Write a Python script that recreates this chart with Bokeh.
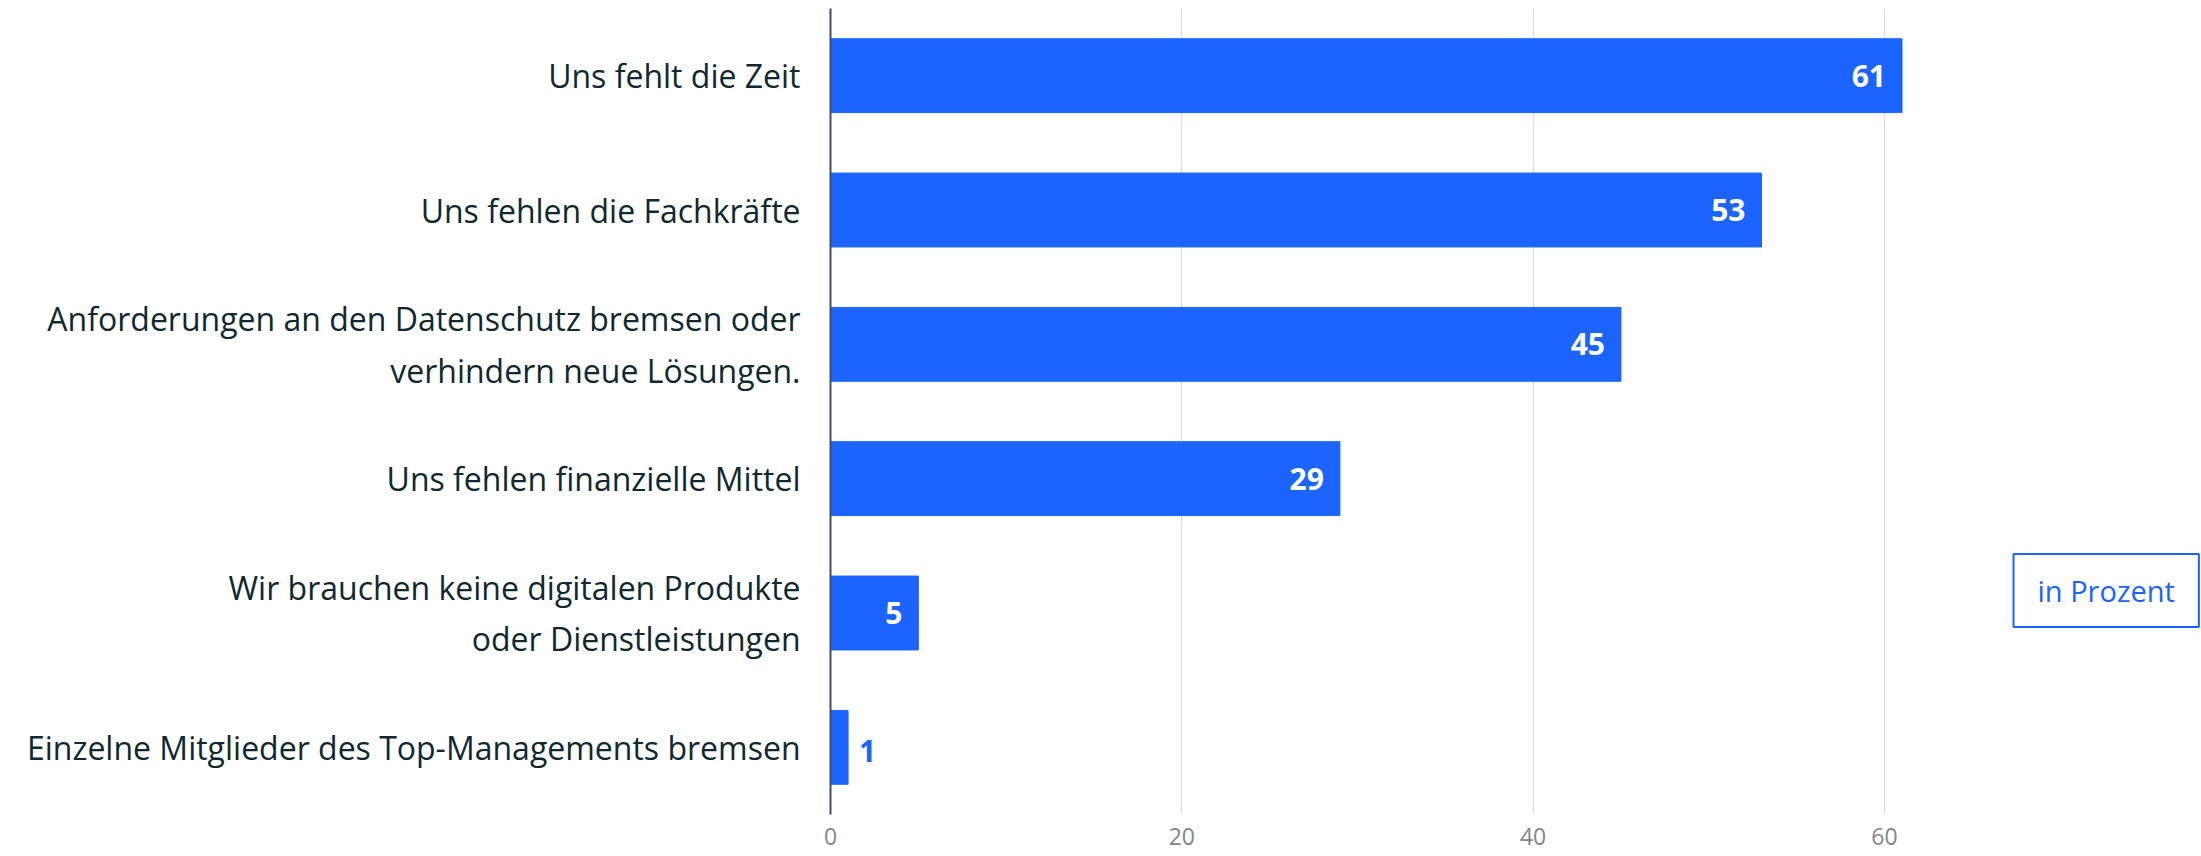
from bokeh.plotting import figure
from bokeh.models import ColumnDataSource, FixedTicker, Label, FactorRange, Range1d
from bokeh.core.properties import value
from bokeh.embed import file_html
from bokeh.resources import INLINE

categories = [
    "Uns fehlt die Zeit",
    "Uns fehlen die Fachkräfte",
    "Anforderungen an den Datenschutz bremsen oder\nverhindern neue Lösungen.",
    "Uns fehlen finanzielle Mittel",
    "Wir brauchen keine digitalen Produkte\noder Dienstleistungen",
    "Einzelne Mitglieder des Top-Managements bremsen",
]
values = [61, 53, 45, 29, 5, 1]
x_ticks = [0, 20, 40, 60]
unit_label = "in Prozent"

BLUE = "#1b64ff"
TEXT = "#10292f"
FONT = "Open Sans"

src = ColumnDataSource(dict(cat=categories, val=values, lab=[str(v) for v in values]))
inside = ColumnDataSource(dict(
    cat=[c for c, v in zip(categories, values) if v >= 3],
    val=[v for v in values if v >= 3],
    lab=[str(v) for v in values if v >= 3],
))
outside = ColumnDataSource(dict(
    cat=[c for c, v in zip(categories, values) if v < 3],
    val=[v for v in values if v < 3],
    lab=[str(v) for v in values if v < 3],
))

p = figure(
    width=2201, height=856,
    y_range=FactorRange(factors=list(reversed(categories))),
    x_range=Range1d(0, 78.05),
    output_backend="svg", toolbar_location=None,
    min_border_left=830, min_border_right=0, min_border_top=8, min_border_bottom=42,
)
p.outline_line_color = None
p.background_fill_color = "white"
p.border_fill_color = "white"

p.hbar(y="cat", right="val", left=0, height=0.55, source=src,
       fill_color=BLUE, line_color=BLUE, line_width=1)

p.text(x="val", y="cat", text="lab", source=inside, x_offset=-16,
       text_align="right", text_baseline="middle", text_color="white",
       text_font=value(FONT), text_font_style="bold", text_font_size="30px")
p.text(x="val", y="cat", text="lab", source=outside, x_offset=11, y_offset=4,
       text_align="left", text_baseline="middle", text_color=BLUE,
       text_font=value(FONT), text_font_style="bold", text_font_size="30px")

# x axis
p.xaxis.ticker = FixedTicker(ticks=x_ticks)
p.xaxis.axis_line_color = None
p.xaxis.major_tick_line_color = None
p.xaxis.major_tick_out = 0
p.xaxis.minor_tick_line_color = None
p.xaxis.major_label_text_color = "#858585"
p.xaxis.major_label_text_font = FONT
p.xaxis.major_label_text_font_size = "23px"
p.xaxis.major_label_standoff = 13
p.xgrid.ticker = FixedTicker(ticks=x_ticks)
p.xgrid.grid_line_color = "#dcdcdc"
p.xgrid.grid_line_width = 1
p.ygrid.grid_line_color = None

# y axis
p.yaxis.axis_line_color = "#3e5057"
p.yaxis.axis_line_width = 2
p.yaxis.major_tick_line_color = None
p.yaxis.major_tick_out = 0
p.yaxis.minor_tick_line_color = None
p.yaxis.major_label_text_color = TEXT
p.yaxis.major_label_text_font = FONT
p.yaxis.major_label_text_font_size = "32px"
p.yaxis.major_label_standoff = 30
p.y_range.range_padding = 0

legend = Label(
    x=1183, y=224, x_units="screen", y_units="screen",
    text=unit_label, text_color=BLUE, text_font=FONT, text_font_size="29px",
    text_align="left", text_baseline="middle",
    border_line_color=BLUE, border_line_width=2,
    background_fill_color="white", padding=(24, 17),
)
p.add_layout(legend)

open("out.html", "w").write(file_html(p, INLINE))
